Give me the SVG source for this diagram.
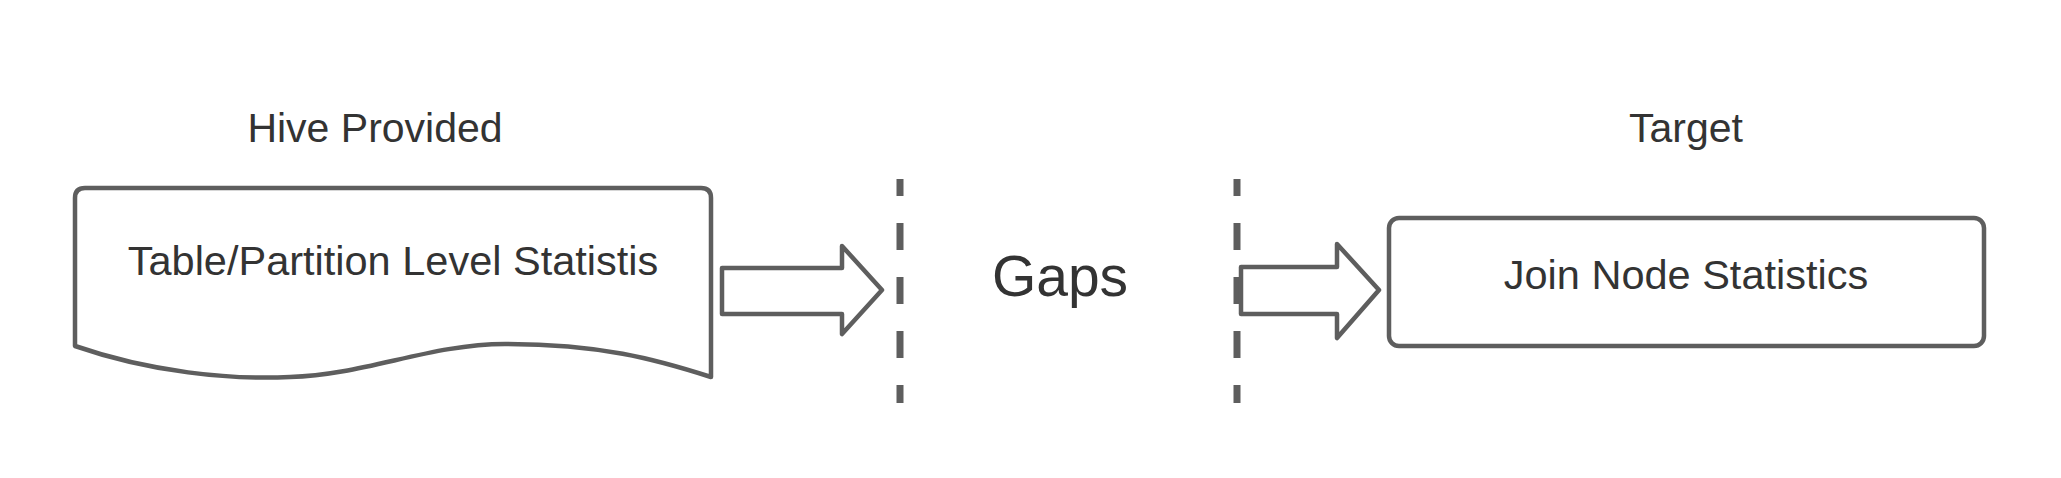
<svg xmlns="http://www.w3.org/2000/svg" width="2061" height="478" viewBox="0 0 2061 478">
  <style>
    .shape { fill: #ffffff; stroke: #5e5e5e; stroke-width: 4.5; stroke-linejoin: round; }
    .label { font-family: "Liberation Sans", Arial, sans-serif; fill: #333333; text-anchor: middle; }
    .dash { stroke: #5e5e5e; stroke-width: 7; stroke-dasharray: 27 27; stroke-dashoffset: 10; fill: none; }
  </style>
  <rect width="2061" height="478" fill="#ffffff"/>
  <g id="hive-provided-title">
    <text class="label" x="375" y="142" font-size="41">Hive Provided</text>
  </g>
  <g id="target-title">
    <text class="label" x="1686" y="142" font-size="41">Target</text>
  </g>
  <g id="table-partition-stats">
    <path class="shape" d="M75,346 L75,198 Q75,188 85,188 L701,188 Q711,188 711,198 L711,377 C655,359 600,344 505,344 C430,344 365,375 290,377 C230,380 150,372 75,346 Z"/>
    <text class="label" x="393" y="275" font-size="41.5">Table/Partition Level Statistis</text>
  </g>
  <g id="dividers">
    <line class="dash" x1="900" y1="179" x2="900" y2="403"/>
    <line class="dash" x1="1237" y1="179" x2="1237" y2="403"/>
  </g>
  <g id="gaps">
    <text class="label" x="1060" y="296" font-size="57">Gaps</text>
  </g>
  <g id="join-node-stats">
    <rect class="shape" x="1389" y="218" width="595" height="128" rx="10" ry="10"/>
    <text class="label" x="1686" y="289" font-size="41.5">Join Node Statistics</text>
  </g>
  <g id="connectors">
    <polygon class="shape" points="722,268 842,268 842,246 882,290 842,334 842,314 722,314"/>
    <polygon class="shape" points="1241,267 1337,267 1337,244 1379,290 1337,338 1337,314 1241,314"/>
  </g>
</svg>
